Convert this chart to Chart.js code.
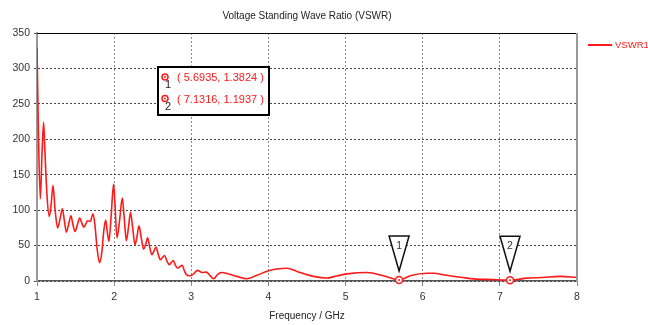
<!doctype html>
<html lang="en">
<head>
<meta charset="utf-8">
<title>VSWR</title>
<script src="https://cdn.jsdelivr.net/npm/chart.js"></script>
<style>
    body { margin: 0; background: #fff; }
    #wrap { width: 648px; height: 325px; }
</style>
</head>
<body>
<div id="wrap"><canvas id="vswrChart" width="648" height="325"></canvas></div>
<script>
// values
const freq = [1.000, 1.020, 1.043, 1.065, 1.086, 1.100, 1.130, 1.160, 1.185, 1.207, 1.235, 1.267, 1.300, 1.328,
    1.355, 1.380, 1.410, 1.440, 1.465, 1.493, 1.520, 1.553, 1.580, 1.604, 1.630, 1.656, 1.690, 1.726, 1.750,
    1.780, 1.810, 1.840, 1.865, 1.890, 1.910, 1.933, 1.960, 1.993, 2.010, 2.037, 2.070, 2.106, 2.130, 2.158,
    2.185, 2.213, 2.240, 2.270, 2.295, 2.322, 2.350, 2.382, 2.410, 2.434, 2.460, 2.490, 2.515, 2.543, 2.570,
    2.598, 2.625, 2.654, 2.685, 2.715, 2.740, 2.767, 2.795, 2.823, 2.850, 2.880, 2.920, 2.960, 2.990, 3.030,
    3.080, 3.140, 3.195, 3.240, 3.290, 3.340, 3.390, 3.484, 3.590, 3.720, 3.850, 4.000, 4.110, 4.240, 4.370,
    4.585, 4.760, 4.880, 5.020, 5.280, 5.490, 5.6935, 5.840, 6.050, 6.140, 6.310, 6.570, 6.660, 6.900,
    7.1316, 7.350, 7.550, 7.780, 8.000];
const vswr = [330, 200, 116, 180, 224, 190, 120, 91, 110, 135, 100, 75, 88, 102,
    85, 69, 80, 92, 80, 70, 78, 89, 82, 76, 80, 85, 84, 95, 80,
    45, 26, 40, 70, 86, 70, 56, 90, 137, 110, 61, 85, 117, 90, 57,
    75, 97, 75, 51, 62, 78, 62, 45, 52, 61, 48, 37, 42, 48, 38,
    30, 33, 36, 28, 23, 26, 29, 22, 18, 20, 22, 12, 7.5, 7.5, 10,
    15, 12, 12.5, 8, 3.2, 9, 12, 10, 6.5, 3.2, 8, 14.5, 17, 18, 13.5,
    6.5, 4.2, 7, 10, 12, 7.5, 1.3824, 7.5, 11, 11, 8, 4, 3, 2,
    1.1937, 4, 5, 6.5, 5];

const markerLabels = ['1', '2'];
const markerFreq = [5.6935, 7.1316];
const markerVswr = [1.3824, 1.1937];

const seriesName = 'VSWR1';
const titleText = 'Voltage Standing Wave Ratio (VSWR)';
const xTitle = 'Frequency / GHz';

const RED = '#ff1a1a';
const FONT = '"Liberation Sans", Arial, sans-serif';

function markerIcon(ctx, cx, cy, r) {
    ctx.beginPath();
    ctx.arc(cx, cy, r, 0, Math.PI * 2);
    ctx.fillStyle = '#fff';
    ctx.fill();
    ctx.strokeStyle = RED;
    ctx.lineWidth = 1.5;
    ctx.stroke();
    ctx.beginPath();
    ctx.arc(cx, cy, 1, 0, Math.PI * 2);
    ctx.fillStyle = RED;
    ctx.fill();
}

const overlay = {
    id: 'overlay',
    afterDraw(chart) {
        const {ctx, chartArea: a, scales: {x, y}} = chart;
        ctx.save();

        // plot frame: black top, grey right
        ctx.strokeStyle = '#000';
        ctx.lineWidth = 1;
        ctx.beginPath();
        ctx.moveTo(a.left, a.top + 0.5);
        ctx.lineTo(a.right, a.top + 0.5);
        ctx.stroke();
        ctx.strokeStyle = '#999';
        ctx.lineWidth = 2;
        ctx.beginPath();
        ctx.moveTo(a.right, a.top);
        ctx.lineTo(a.right, a.bottom);
        ctx.stroke();

        // markers on the curve with their flags
        ctx.font = '10.5px ' + FONT;
        ctx.textAlign = 'center';
        ctx.textBaseline = 'middle';
        markerFreq.forEach((f, i) => {
            const px = x.getPixelForValue(f);
            const py = y.getPixelForValue(markerVswr[i]);
            const tip = py - 9, top = py - 44;
            ctx.beginPath();
            ctx.moveTo(px - 10, top);
            ctx.lineTo(px + 10, top);
            ctx.lineTo(px, tip);
            ctx.closePath();
            ctx.fillStyle = '#fff';
            ctx.fill();
            ctx.strokeStyle = '#111';
            ctx.lineWidth = 1.5;
            ctx.stroke();
            ctx.fillStyle = '#333';
            ctx.fillText(markerLabels[i], px, top + 10);
            markerIcon(ctx, px, py, 3.5);
        });

        // marker readout box
        const bx = a.left + 121, by = a.top + 34, bw = 111, bh = 48;
        ctx.fillStyle = '#fff';
        ctx.fillRect(bx, by, bw, bh);
        ctx.strokeStyle = '#000';
        ctx.lineWidth = 2;
        ctx.strokeRect(bx, by, bw, bh);
        ctx.font = '11px ' + FONT;
        markerFreq.forEach((f, i) => {
            const ry = by + 11 + i * 21.5;
            markerIcon(ctx, bx + 7, ry - 1, 3);
            ctx.fillStyle = '#222';
            ctx.textAlign = 'center';
            ctx.fillText(markerLabels[i], bx + 10, ry + 7);
            ctx.fillStyle = RED;
            ctx.textAlign = 'left';
            ctx.fillText('( ' + f.toFixed(4) + ', ' + markerVswr[i].toFixed(4) + ' )', bx + 19, ry);
        });

        // legend
        ctx.strokeStyle = RED;
        ctx.lineWidth = 2;
        ctx.beginPath();
        ctx.moveTo(a.right + 11, a.top + 12);
        ctx.lineTo(a.right + 35, a.top + 12);
        ctx.stroke();
        ctx.fillStyle = RED;
        ctx.textAlign = 'left';
        ctx.font = '9.5px ' + FONT;
        ctx.fillText(seriesName, a.right + 38, a.top + 12);

        // titles
        ctx.font = '10px ' + FONT;
        ctx.fillStyle = '#222';
        ctx.textAlign = 'center';
        ctx.fillText(titleText, (a.left + a.right) / 2, 16);
        ctx.fillText(xTitle, (a.left + a.right) / 2, a.bottom + 35);
        ctx.restore();
    }
};

new Chart(document.getElementById('vswrChart'), {
    type: 'line',
    data: {
        datasets: [{
            label: seriesName,
            data: freq.map((f, i) => ({x: f, y: vswr[i]})),
            borderColor: RED,
            borderWidth: 1.6,
            pointRadius: 0,
            fill: false,
            cubicInterpolationMode: 'monotone'
        }]
    },
    options: {
        responsive: false,
        animation: false,
        layout: {padding: {top: 33, right: 71, left: 0, bottom: 0}},
        plugins: {legend: {display: false}, title: {display: false}, tooltip: {enabled: false}},
        scales: {
            x: {
                type: 'linear',
                min: 1,
                max: 8,
                afterFit(s) { s.height = 44; },
                ticks: {stepSize: 1, color: '#333', padding: 5, font: {family: FONT, size: 10.5}},
                grid: {color: '#8a8a8a', lineWidth: 1, tickLength: 5, tickColor: '#8a8a8a'},
                border: {display: true, color: '#555', width: 1.5, dash: [2, 2]}
            },
            y: {
                min: 0,
                max: 350,
                afterFit(s) { s.width = 37; },
                ticks: {stepSize: 50, color: '#333', padding: 4, font: {family: FONT, size: 10.5}},
                grid: {color: '#444', lineWidth: 1, tickLength: 3, tickColor: '#444'},
                border: {display: true, color: '#999', width: 2, dash: [2, 2]}
            }
        }
    },
    plugins: [overlay]
});
</script>
</body>
</html>
